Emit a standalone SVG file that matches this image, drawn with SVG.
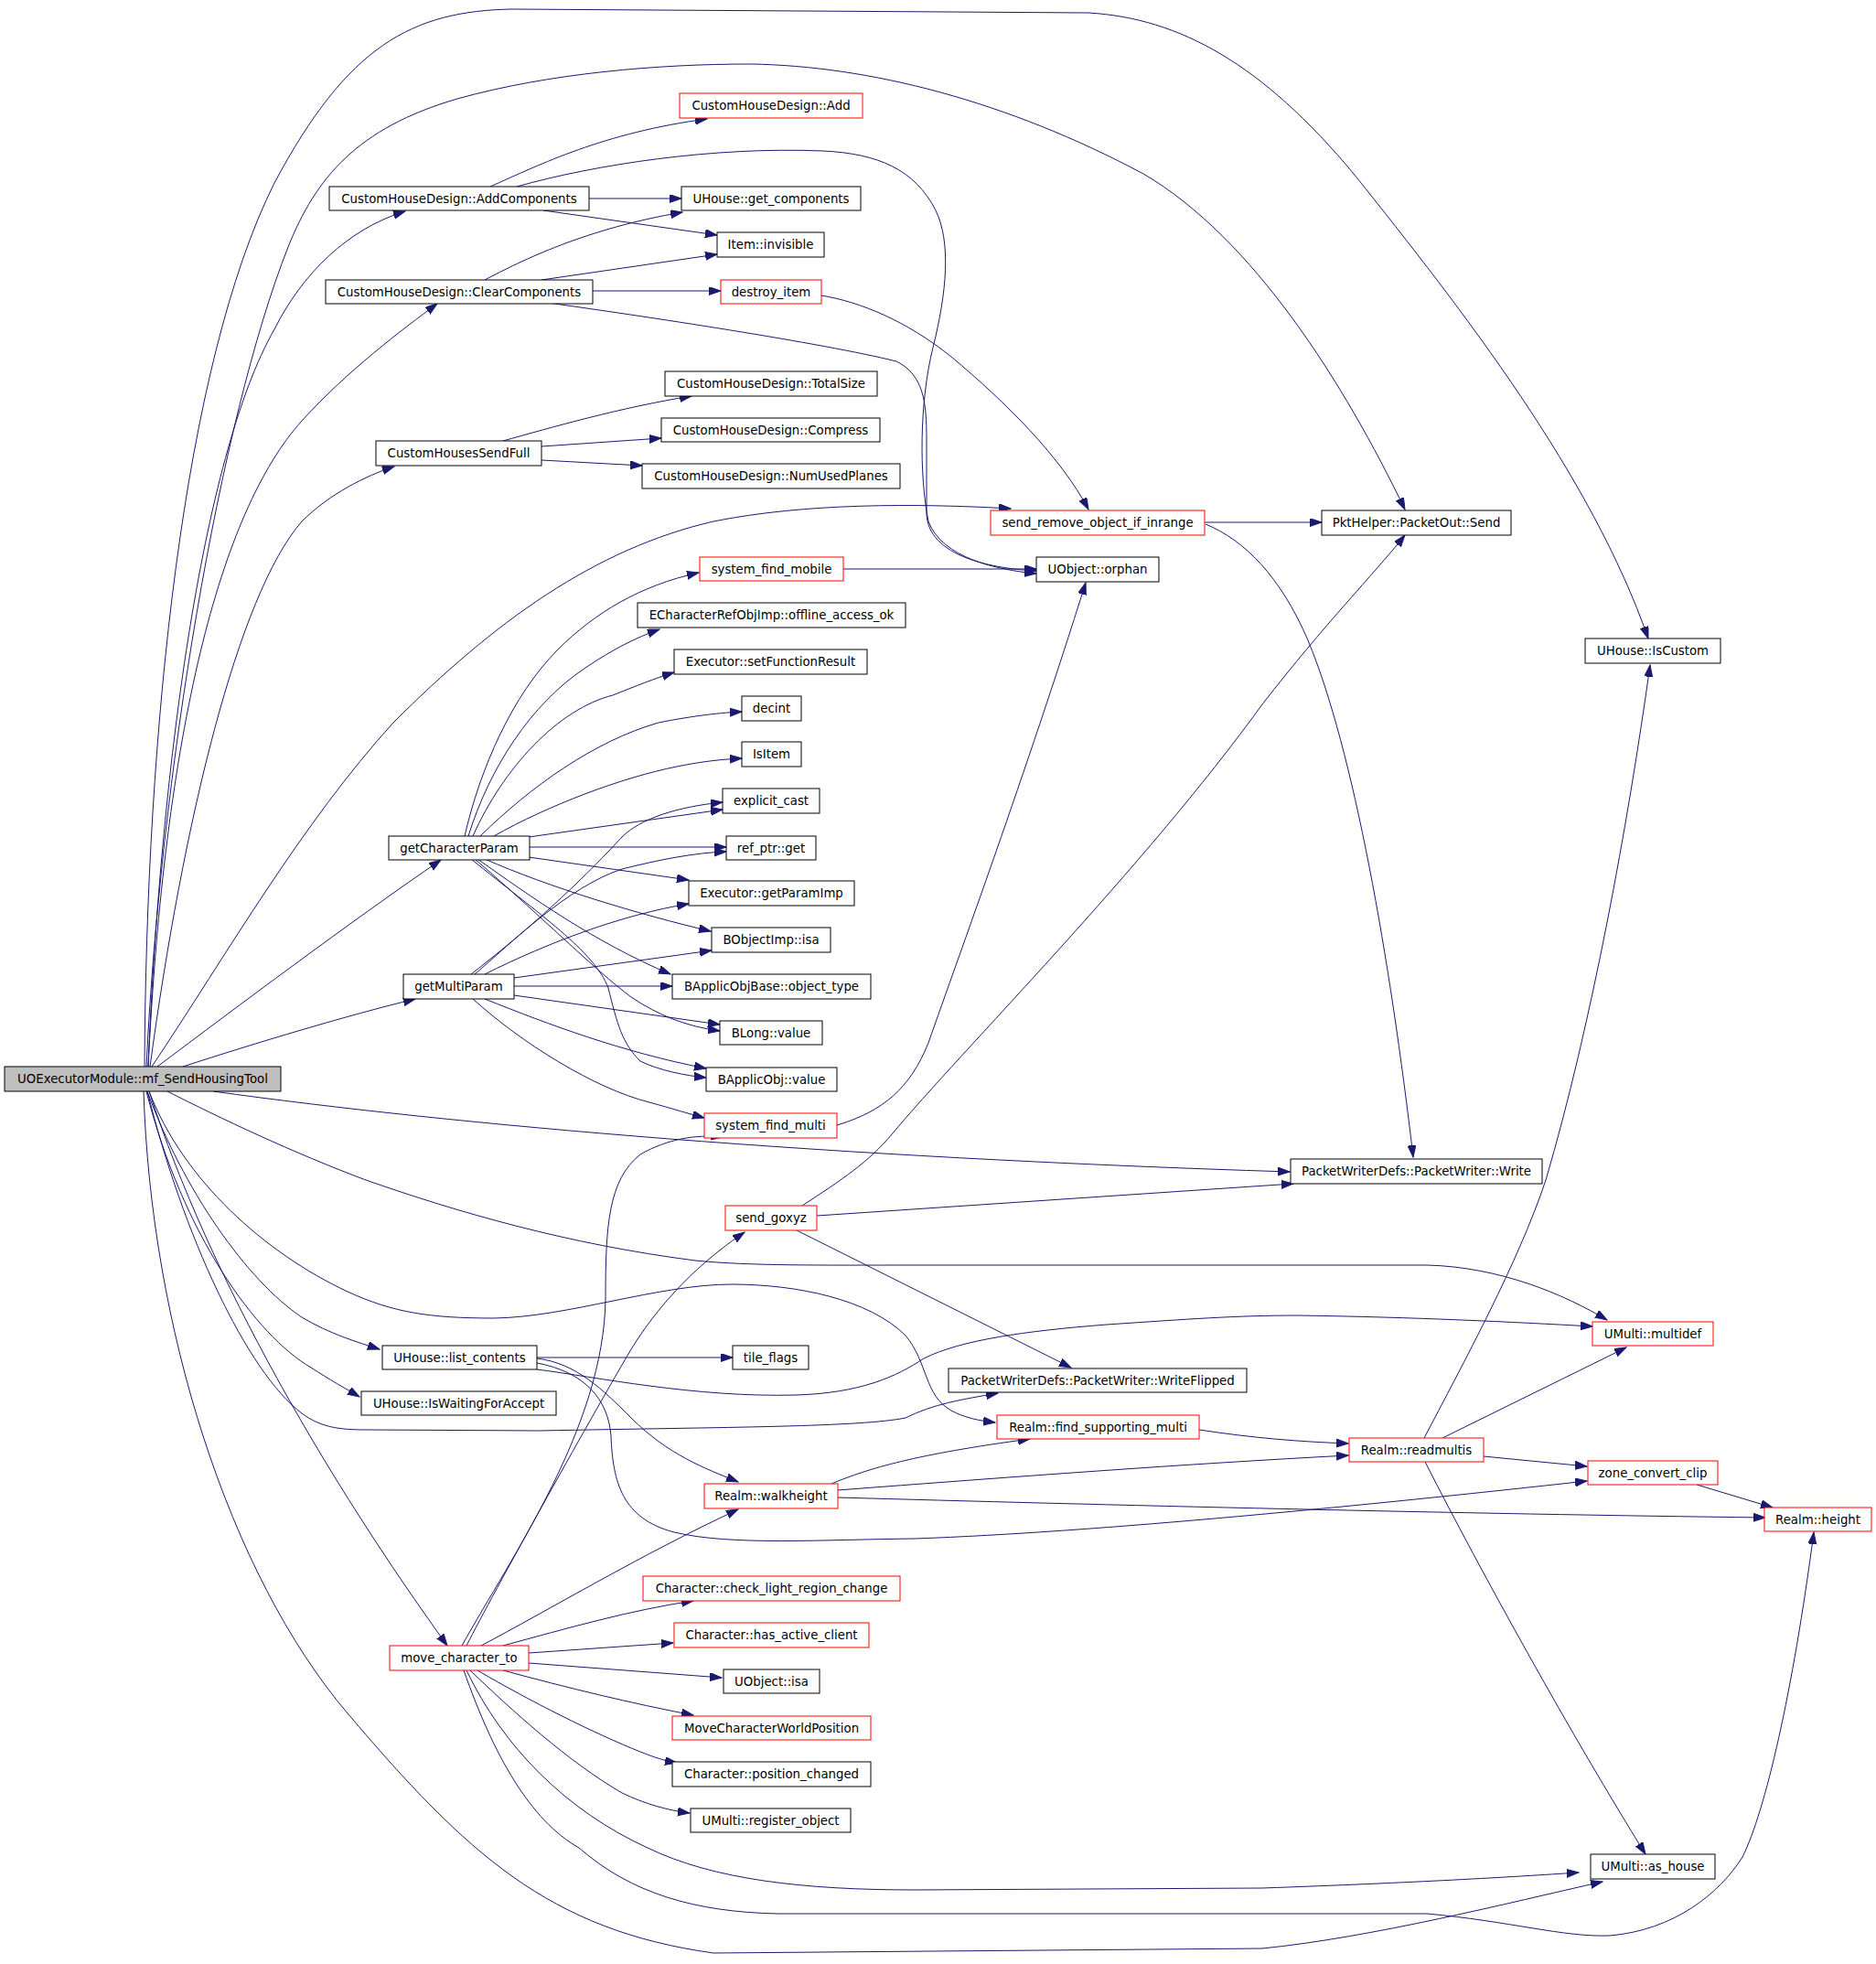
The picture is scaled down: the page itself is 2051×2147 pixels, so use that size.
<svg xmlns="http://www.w3.org/2000/svg" width="2051" height="2147" viewBox="0 0 2051 2147">
<style>
rect{fill:#fff;stroke:#000;stroke-width:1}
.r rect{stroke:#f00}
.root rect{fill:#bfbfbf}
text{font-family:"DejaVu Sans",sans-serif;font-size:13.3px;text-anchor:middle;fill:#000}
#edges path{fill:none;stroke:#191970;stroke-width:1;marker-end:url(#a)}
</style>
<defs>
<marker id="a" markerUnits="userSpaceOnUse" markerWidth="14" markerHeight="10" refX="13" refY="4.5" orient="auto"><path d="M0,0L13,4.5L0,9z" fill="#191970" stroke="#191970" stroke-width="1"/></marker>
</defs>
<rect x="0" y="0" width="2051" height="2147" style="stroke:none"/>
<g id="edges">
<path d="M158,1166 C160,800 200,400 300,200 C380,50 450,12 560,10 L1190,14 C1290,20 1380,70 1480,190 C1600,340 1740,520 1802,698"/>
<path d="M160,1166 C175,850 240,460 315,270 C345,195 390,140 500,108 C600,80 720,70 820,70 C950,72 1100,110 1250,190 C1370,260 1470,420 1536,557"/>
<path d="M162,1166 C175,850 220,500 300,360 C330,300 380,250 443,231"/>
<path d="M162,1166 C180,800 240,560 330,460 C380,405 440,360 478,332"/>
<path d="M164,1166 C200,900 260,650 330,570 C360,540 400,520 431,510"/>
<path d="M166,1166 C250,1040 330,900 430,790 C540,680 650,600 780,570 C880,550 1000,550 1105,556"/>
<path d="M172,1166 C260,1100 380,1010 482,940"/>
<path d="M200,1166 C280,1140 380,1110 454,1092"/>
<path d="M233,1193 C500,1230 900,1265 1410,1281"/>
<path d="M183,1193 C240,1222 320,1260 400,1290 C500,1325 620,1360 760,1378 C820,1384 900,1383 1000,1383 L1560,1383 C1640,1385 1710,1415 1757,1443"/>
<path d="M163,1193 C200,1290 290,1370 380,1412 C430,1435 470,1441 540,1441 C620,1440 720,1404 800,1404 C870,1404 950,1420 990,1460 C1015,1490 1010,1525 1040,1542 C1055,1550 1070,1553 1088,1555"/>
<path d="M161,1193 C200,1350 270,1500 330,1545 C350,1560 370,1563 400,1563 L590,1564 C800,1560 940,1560 990,1550 C1020,1535 1050,1530 1091,1523"/>
<path d="M161,1193 C200,1300 270,1400 330,1440 C360,1458 390,1467 415,1475"/>
<path d="M160,1193 C200,1350 280,1460 340,1495 C360,1508 378,1518 393,1527"/>
<path d="M163,1193 C230,1400 360,1620 489,1799"/>
<path d="M157,1193 C165,1450 250,1720 380,1873 S600,2110 780,2135 L1380,2130 C1500,2118 1650,2080 1752,2057"/>
<path d="M536,204 C590,180 660,145 773,130"/>
<path d="M644,217 L745,217"/>
<path d="M594,230 L784,257"/>
<path d="M565,204 C650,180 780,160 900,165 C960,168 1000,185 1023,230 C1040,265 1035,320 1020,380 C1005,440 1005,520 1015,570 C1030,610 1090,623 1133,627"/>
<path d="M530,306 C570,285 640,250 746,232"/>
<path d="M592,306 L784,278"/>
<path d="M648,318 L788,318"/>
<path d="M599,331 C700,345 900,375 980,395 C1010,410 1013,440 1013,480 L1013,560 C1013,610 1090,622 1133,624"/>
<path d="M898,323 C940,330 990,350 1040,390 C1100,440 1160,500 1190,557"/>
<path d="M550,482 C600,468 680,445 756,433"/>
<path d="M592,488 L723,479"/>
<path d="M592,503 L702,509"/>
<path d="M1317,571 L1445,571"/>
<path d="M1318,573 C1360,590 1400,630 1430,700 C1480,820 1520,1050 1545,1265"/>
<path d="M922,622 L1133,622"/>
<path d="M915,1230 C965,1215 995,1190 1015,1140 C1050,1040 1120,850 1187,637"/>
<path d="M508,914 C525,840 560,760 610,710 C650,670 700,640 764,626"/>
<path d="M512,914 C535,840 580,770 640,730 C670,710 695,697 721,688"/>
<path d="M517,914 C550,840 610,775 670,760 C695,750 715,742 737,735"/>
<path d="M525,914 C580,860 650,810 720,790 C760,782 790,779 811,778"/>
<path d="M540,914 C600,880 680,850 740,838 C770,832 790,830 811,829"/>
<path d="M578,915 L790,885"/>
<path d="M579,926 L794,926"/>
<path d="M578,937 L753,962"/>
<path d="M530,939 C600,970 700,1000 777,1018"/>
<path d="M522,939 C580,980 650,1030 733,1065"/>
<path d="M519,939 C590,1000 650,1060 690,1090 C720,1110 750,1122 787,1127"/>
<path d="M515,939 C590,1000 650,1040 665,1080 C675,1120 680,1140 700,1160 C720,1170 750,1176 772,1178"/>
<path d="M515,1065 C560,1030 620,980 680,915 C700,895 740,882 790,877"/>
<path d="M519,1065 C560,1030 620,970 680,950 C720,940 760,932 794,931"/>
<path d="M530,1065 C600,1030 680,1000 753,988"/>
<path d="M562,1069 L778,1039"/>
<path d="M562,1078 L735,1078"/>
<path d="M562,1088 L787,1120"/>
<path d="M530,1092 C600,1120 680,1150 772,1168"/>
<path d="M517,1092 C570,1140 650,1190 710,1205 C735,1212 755,1218 770,1222"/>
<path d="M877,1318 C920,1290 950,1270 975,1240 C1050,1150 1250,950 1380,770 C1450,680 1500,630 1536,585"/>
<path d="M893,1329 L1414,1294"/>
<path d="M871,1345 L1171,1495"/>
<path d="M587,1484 L801,1484"/>
<path d="M587,1497 C650,1505 760,1528 870,1525 C940,1523 980,1505 1010,1485 C1050,1465 1120,1455 1210,1448 C1300,1442 1350,1438 1420,1438 C1550,1440 1650,1445 1741,1450"/>
<path d="M587,1485 C630,1490 660,1520 690,1550 C730,1590 770,1605 807,1620"/>
<path d="M587,1490 C640,1500 665,1530 668,1570 C670,1620 680,1660 737,1675 C800,1690 900,1683 1000,1682 C1200,1675 1500,1645 1735,1619"/>
<path d="M909,1622 C950,1605 1000,1590 1126,1573"/>
<path d="M916,1629 C1100,1615 1300,1600 1474,1591"/>
<path d="M916,1637 C1200,1645 1600,1655 1930,1659"/>
<path d="M1311,1563 C1370,1572 1420,1576 1474,1578"/>
<path d="M1557,1572 C1600,1490 1660,1380 1690,1290 C1740,1120 1780,900 1804,727"/>
<path d="M1577,1572 L1778,1473"/>
<path d="M1622,1592 L1735,1603"/>
<path d="M1558,1598 C1620,1720 1720,1900 1799,2027"/>
<path d="M1855,1623 L1938,1648"/>
<path d="M505,1799 C560,1700 660,1560 662,1420 C662,1340 665,1290 700,1262 C730,1245 760,1240 790,1243"/>
<path d="M510,1799 C540,1740 640,1560 690,1475 C730,1410 780,1370 814,1347"/>
<path d="M526,1799 C600,1760 700,1700 807,1650"/>
<path d="M550,1799 C620,1780 690,1760 758,1750"/>
<path d="M578,1807 L736,1796"/>
<path d="M578,1818 L789,1834"/>
<path d="M550,1826 C620,1845 690,1862 758,1875"/>
<path d="M522,1826 C580,1860 650,1895 700,1915 C715,1921 727,1925 740,1927"/>
<path d="M514,1826 C560,1870 620,1925 680,1960 C705,1972 730,1979 754,1982"/>
<path d="M510,1826 C550,1910 620,1980 708,2020 C780,2055 880,2066 1000,2066 L1380,2064 C1550,2058 1650,2052 1726,2047"/>
<path d="M507,1826 C540,1920 580,1990 633,2020 C690,2070 760,2090 850,2092 L1560,2092 C1650,2100 1710,2118 1760,2116 C1830,2110 1880,2070 1905,2030 C1930,1980 1960,1850 1983,1675"/>
</g>
<g id="n_root" class="root"><rect x="5" y="1166" width="302" height="27"/><text x="156" y="1184">UOExecutorModule::mf_SendHousingTool</text></g>
<g id="n_addcomp"><rect x="360" y="204" width="284" height="26"/><text x="502" y="222">CustomHouseDesign::AddComponents</text></g>
<g id="n_add" class="r"><rect x="743" y="102" width="200" height="27"/><text x="843" y="120">CustomHouseDesign::Add</text></g>
<g id="n_getcomp"><rect x="745" y="204" width="196" height="26"/><text x="843" y="222">UHouse::get_components</text></g>
<g id="n_invisible"><rect x="784" y="254" width="117" height="27"/><text x="842.5" y="272">Item::invisible</text></g>
<g id="n_clearcomp"><rect x="356" y="306" width="292" height="26"/><text x="502" y="324">CustomHouseDesign::ClearComponents</text></g>
<g id="n_destroy" class="r"><rect x="788" y="306" width="110" height="26"/><text x="843" y="324">destroy_item</text></g>
<g id="n_totalsize"><rect x="727" y="406" width="232" height="27"/><text x="843" y="424">CustomHouseDesign::TotalSize</text></g>
<g id="n_compress"><rect x="723" y="457" width="239" height="26"/><text x="842.5" y="475">CustomHouseDesign::Compress</text></g>
<g id="n_numplanes"><rect x="702" y="507" width="282" height="27"/><text x="843" y="525">CustomHouseDesign::NumUsedPlanes</text></g>
<g id="n_sendfull"><rect x="411" y="482" width="181" height="27"/><text x="501.5" y="500">CustomHousesSendFull</text></g>
<g id="n_sendremove" class="r"><rect x="1083" y="558" width="234" height="27"/><text x="1200" y="576">send_remove_object_if_inrange</text></g>
<g id="n_pktsend"><rect x="1445" y="558" width="207" height="27"/><text x="1548.5" y="576">PktHelper::PacketOut::Send</text></g>
<g id="n_orphan"><rect x="1133" y="609" width="134" height="27"/><text x="1200" y="627">UObject::orphan</text></g>
<g id="n_sysmobile" class="r"><rect x="765" y="609" width="157" height="26"/><text x="843.5" y="627">system_find_mobile</text></g>
<g id="n_iscustom"><rect x="1733" y="698" width="148" height="27"/><text x="1807" y="716">UHouse::IsCustom</text></g>
<g id="n_offline"><rect x="697" y="659" width="293" height="27"/><text x="843.5" y="677">ECharacterRefObjImp::offline_access_ok</text></g>
<g id="n_setfunc"><rect x="737" y="710" width="211" height="27"/><text x="842.5" y="728">Executor::setFunctionResult</text></g>
<g id="n_decint"><rect x="811" y="761" width="65" height="27"/><text x="843.5" y="779">decint</text></g>
<g id="n_isitem"><rect x="811" y="811" width="65" height="27"/><text x="843.5" y="829">IsItem</text></g>
<g id="n_explicit"><rect x="790" y="862" width="106" height="27"/><text x="843" y="880">explicit_cast</text></g>
<g id="n_getchar"><rect x="425" y="914" width="154" height="26"/><text x="502" y="932">getCharacterParam</text></g>
<g id="n_refget"><rect x="794" y="914" width="98" height="26"/><text x="843" y="932">ref_ptr::get</text></g>
<g id="n_getparam"><rect x="753" y="963" width="181" height="27"/><text x="843.5" y="981">Executor::getParamImp</text></g>
<g id="n_bobjisa"><rect x="778" y="1014" width="130" height="27"/><text x="843" y="1032">BObjectImp::isa</text></g>
<g id="n_getmulti"><rect x="441" y="1065" width="121" height="27"/><text x="501.5" y="1083">getMultiParam</text></g>
<g id="n_objtype"><rect x="735" y="1065" width="217" height="27"/><text x="843.5" y="1083">BApplicObjBase::object_type</text></g>
<g id="n_blong"><rect x="787" y="1116" width="112" height="26"/><text x="843" y="1134">BLong::value</text></g>
<g id="n_bapplic"><rect x="772" y="1167" width="143" height="26"/><text x="843.5" y="1185">BApplicObj::value</text></g>
<g id="n_sysmulti" class="r"><rect x="770" y="1217" width="145" height="27"/><text x="842.5" y="1235">system_find_multi</text></g>
<g id="n_write"><rect x="1411" y="1267" width="275" height="27"/><text x="1548.5" y="1285">PacketWriterDefs::PacketWriter::Write</text></g>
<g id="n_goxyz" class="r"><rect x="793" y="1318" width="100" height="27"/><text x="843" y="1336">send_goxyz</text></g>
<g id="n_multidef" class="r"><rect x="1741" y="1445" width="132" height="26"/><text x="1807" y="1463">UMulti::multidef</text></g>
<g id="n_listcontents"><rect x="418" y="1471" width="169" height="26"/><text x="502.5" y="1489">UHouse::list_contents</text></g>
<g id="n_tileflags"><rect x="801" y="1471" width="83" height="26"/><text x="842.5" y="1489">tile_flags</text></g>
<g id="n_iswaiting"><rect x="395" y="1521" width="213" height="26"/><text x="501.5" y="1539">UHouse::IsWaitingForAccept</text></g>
<g id="n_writeflipped"><rect x="1037" y="1496" width="326" height="26"/><text x="1200" y="1514">PacketWriterDefs::PacketWriter::WriteFlipped</text></g>
<g id="n_findsupp" class="r"><rect x="1090" y="1547" width="221" height="26"/><text x="1200.5" y="1565">Realm::find_supporting_multi</text></g>
<g id="n_readmultis" class="r"><rect x="1475" y="1572" width="147" height="26"/><text x="1548.5" y="1590">Realm::readmultis</text></g>
<g id="n_zoneclip" class="r"><rect x="1736" y="1597" width="142" height="26"/><text x="1807" y="1615">zone_convert_clip</text></g>
<g id="n_walkheight" class="r"><rect x="770" y="1622" width="146" height="27"/><text x="843" y="1640">Realm::walkheight</text></g>
<g id="n_height" class="r"><rect x="1929" y="1648" width="117" height="26"/><text x="1987.5" y="1666">Realm::height</text></g>
<g id="n_checklight" class="r"><rect x="703" y="1723" width="281" height="27"/><text x="843.5" y="1741">Character::check_light_region_change</text></g>
<g id="n_hasactive" class="r"><rect x="737" y="1774" width="213" height="27"/><text x="843.5" y="1792">Character::has_active_client</text></g>
<g id="n_movechar" class="r"><rect x="426" y="1799" width="152" height="27"/><text x="502" y="1817">move_character_to</text></g>
<g id="n_uobjisa"><rect x="791" y="1825" width="105" height="26"/><text x="843.5" y="1843">UObject::isa</text></g>
<g id="n_movecwp" class="r"><rect x="735" y="1876" width="217" height="26"/><text x="843.5" y="1894">MoveCharacterWorldPosition</text></g>
<g id="n_poschanged"><rect x="735" y="1926" width="217" height="27"/><text x="843.5" y="1944">Character::position_changed</text></g>
<g id="n_register"><rect x="755" y="1977" width="175" height="26"/><text x="842.5" y="1995">UMulti::register_object</text></g>
<g id="n_ashouse"><rect x="1739" y="2027" width="136" height="27"/><text x="1807" y="2045">UMulti::as_house</text></g>
</svg>
